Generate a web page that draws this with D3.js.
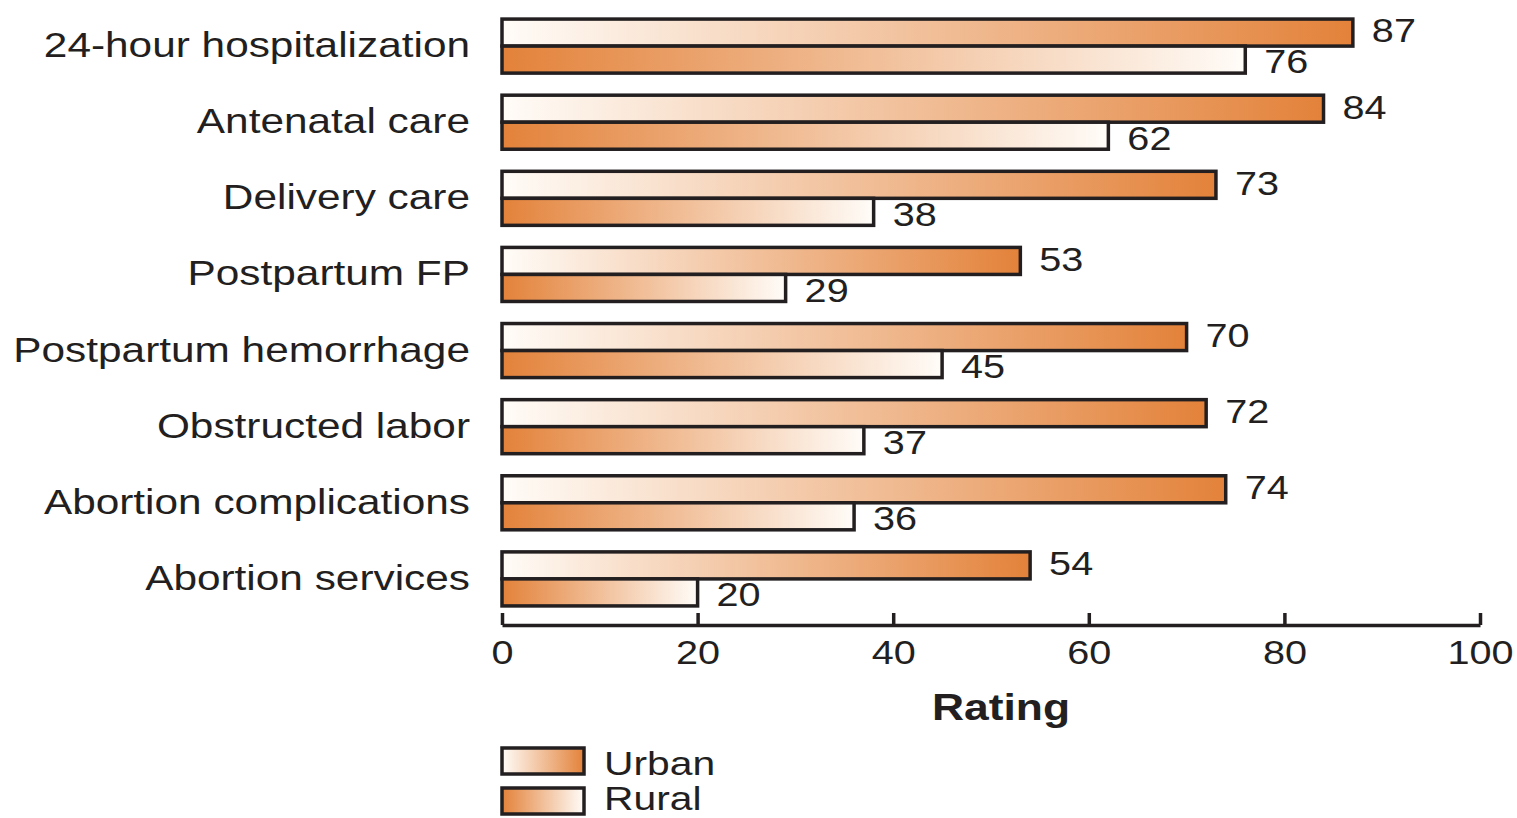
<!DOCTYPE html>
<html>
<head>
<meta charset="utf-8">
<script src="https://cdn.jsdelivr.net/npm/d3@7/dist/d3.min.js"></script>
<style>
  html, body { margin: 0; padding: 0; background: #fff; }
  svg { display: block; }
  text { font-family: "Liberation Sans", Arial, Helvetica, sans-serif; fill: #231f20; }
</style>
</head>
<body>
<svg id="chart" width="1517" height="818"></svg>
<script>
const categories = [
  "24-hour hospitalization",
  "Antenatal care",
  "Delivery care",
  "Postpartum FP",
  "Postpartum hemorrhage",
  "Obstructed labor",
  "Abortion complications",
  "Abortion services"
];
const series = ["Urban", "Rural"];
const urbanValues = [87, 84, 73, 53, 70, 72, 74, 54];
const ruralValues = [76, 62, 38, 29, 45, 37, 36, 20];
const xTicks = [0, 20, 40, 60, 80, 100];
const xTitle = "Rating";

const ink = "#231f20";
const orange = "#e3823a";
const light = "#fffcf8";
const SX = 1.2; // horizontal text stretch of the original

const svg = d3.select("#chart");
const defs = svg.append("defs");
function grad(id, from, to) {
  const g = defs.append("linearGradient").attr("id", id)
    .attr("x1", "0%").attr("x2", "100%").attr("y1", "0%").attr("y2", "0%");
  g.append("stop").attr("offset", "0%").attr("stop-color", from);
  g.append("stop").attr("offset", "100%").attr("stop-color", to);
}
grad("gUrban", light, orange);
grad("gRural", orange, light);
const fillFor = { Urban: "url(#gUrban)", Rural: "url(#gRural)" };

const x = d3.scaleLinear().domain([0, 100]).range([502, 1480]);
const y = d3.scaleBand().domain(categories).range([-3, 628])
  .paddingInner(0.29).paddingOuter(0.29);
const ySub = d3.scaleBand().domain(series).range([0, y.bandwidth()]);

const rows = categories.map((c, i) => ({
  cat: c,
  vals: [{ s: "Urban", v: urbanValues[i] }, { s: "Rural", v: ruralValues[i] }]
}));

const groups = svg.append("g").selectAll("g.grp").data(rows).join("g")
  .attr("class", "grp")
  .attr("transform", d => `translate(0,${y(d.cat)})`);

groups.selectAll("rect").data(d => d.vals).join("rect")
  .attr("x", x(0))
  .attr("y", d => ySub(d.s))
  .attr("width", d => x(d.v) - x(0))
  .attr("height", ySub.bandwidth())
  .attr("fill", d => fillFor[d.s])
  .attr("stroke", ink)
  .attr("stroke-width", 3.5);

groups.selectAll("text.val").data(d => d.vals).join("text")
  .attr("class", "val")
  .attr("transform", d => `translate(${x(d.v) + 19},${ySub(d.s) + ySub.bandwidth() / 2 + (d.s === "Urban" ? -2 : 2)}) scale(${SX},1)`)
  .attr("dy", "0.36em")
  .attr("font-size", 33)
  .text(d => d.v);

// category labels
svg.append("g").selectAll("text").data(categories).join("text")
  .attr("transform", d => `translate(470,${y(d) + y.bandwidth() / 2 + 11}) scale(${SX},1)`)
  .attr("text-anchor", "end")
  .attr("font-size", 35.3)
  .text(d => d);

// x axis
const axis = d3.axisBottom(x).tickValues(xTicks).tickSizeInner(-12).tickSizeOuter(0).tickPadding(0);
const ax = svg.append("g").attr("transform", "translate(0,625)").call(axis);
ax.select(".domain").attr("stroke", ink).attr("stroke-width", 3.5);
ax.selectAll(".tick line").attr("stroke", ink).attr("stroke-width", 3.5);
ax.selectAll(".tick text")
  .attr("y", 0).attr("dy", null)
  .attr("transform", `translate(0,39) scale(${SX},1)`)
  .attr("font-size", 33)
  .attr("font-family", "Liberation Sans, Arial, sans-serif")
  .attr("fill", ink);

svg.append("text")
  .attr("transform", `translate(1001,720) scale(${SX},1)`)
  .attr("text-anchor", "middle")
  .attr("font-size", 37)
  .attr("font-weight", "bold")
  .text(xTitle);

// legend
const leg = svg.append("g").selectAll("g").data(series).join("g")
  .attr("transform", (d, i) => `translate(502,${748 + i * 40})`);
leg.append("rect")
  .attr("width", 82).attr("height", 26)
  .attr("fill", d => fillFor[d])
  .attr("stroke", ink).attr("stroke-width", 3.5);
leg.append("text")
  .attr("transform", (d, i) => `translate(102,${i === 0 ? 27 : 22}) scale(${SX},1)`)
  .attr("font-size", 34)
  .text(d => d);
</script>
</body>
</html>
